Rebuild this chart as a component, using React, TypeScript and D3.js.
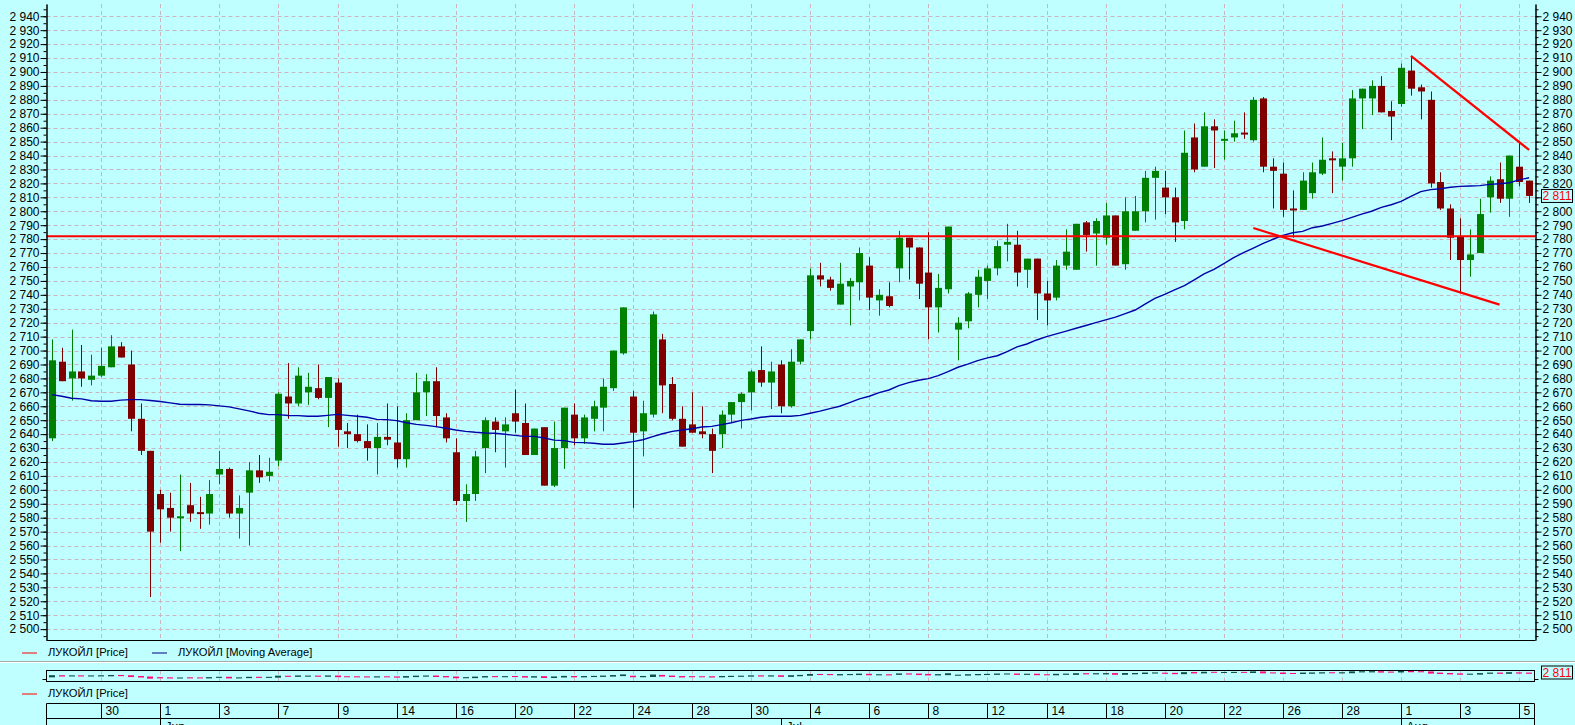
import React, { useEffect, useRef } from 'react';
import * as d3 from 'd3';

// OHLC, one entry per bar (3 bars per trading day)
const opens = [
  2637, 2692, 2680, 2685, 2679, 2682, 2688, 2703, 2690, 2651, 2628, 2597, 2587, 2580, 2589, 2584, 2583, 2611, 2615, 2583,
  2598, 2614, 2610, 2621, 2667, 2662, 2670, 2673, 2666, 2677, 2642, 2640, 2635, 2630, 2638, 2634, 2622, 2650, 2670, 2678,
  2652, 2627, 2592, 2597, 2630, 2649, 2642, 2655, 2648, 2625, 2645, 2603, 2630, 2654, 2637, 2651, 2659, 2673, 2698, 2667,
  2642, 2654, 2708, 2676, 2651, 2647, 2642, 2640, 2640, 2654, 2663, 2670, 2686, 2677, 2690, 2660, 2692, 2714, 2754, 2751,
  2733, 2746, 2749, 2761, 2736, 2739, 2759, 2781, 2774, 2756, 2731, 2744, 2715, 2721, 2740, 2750, 2759, 2776, 2776, 2758,
  2766, 2741, 2738, 2761, 2758, 2792, 2784, 2781, 2797, 2762, 2786, 2800, 2824, 2817, 2810, 2793, 2853, 2832, 2861, 2851,
  2853, 2856.5, 2851, 2881, 2832, 2827, 2802, 2801, 2813, 2827, 2838, 2832, 2838, 2881, 2881, 2890, 2872, 2877, 2901, 2889,
  2880, 2821, 2802, 2782, 2765, 2770, 2810, 2823, 2809, 2832, 2822,
];
const highs = [
  2708, 2702, 2715, 2704, 2697, 2702, 2711, 2706, 2700, 2662, 2628, 2600, 2598, 2611, 2605, 2595, 2607, 2628, 2616, 2596,
  2620, 2625, 2623, 2670, 2691, 2688, 2684, 2690, 2681, 2680, 2648, 2654, 2647, 2648, 2662, 2660, 2655, 2684, 2683, 2688,
  2655, 2637, 2604, 2628, 2652, 2652, 2652, 2672, 2662, 2644, 2645, 2649, 2659, 2662, 2654, 2664, 2680, 2700, 2731, 2671,
  2664, 2728, 2712, 2681, 2660, 2670, 2660, 2644, 2657, 2663, 2670, 2686, 2703, 2692, 2693, 2701, 2708, 2759, 2763, 2753,
  2763, 2752, 2774, 2767, 2744, 2749, 2786, 2781, 2774, 2785, 2755, 2789, 2724, 2742, 2758, 2761, 2779, 2791, 2786, 2766,
  2766, 2750, 2765, 2787, 2791, 2793, 2795, 2806, 2797, 2810, 2811, 2829, 2832, 2829, 2817, 2858, 2863, 2871, 2866, 2858,
  2865, 2871, 2882, 2882, 2838, 2835, 2815, 2828, 2835, 2853, 2843, 2849, 2887, 2888, 2894, 2897, 2879, 2906, 2911, 2891,
  2886, 2828, 2805, 2795, 2787, 2809, 2825, 2835, 2840, 2850, 2822,
];
const lows = [
  2635, 2678, 2664, 2674, 2675, 2681, 2688, 2695, 2642, 2625, 2523, 2562, 2570, 2556, 2577, 2572, 2575, 2604, 2580, 2565,
  2560, 2605, 2606, 2617, 2651, 2660, 2661, 2665, 2645, 2631, 2630, 2634, 2621, 2611, 2632, 2616, 2616, 2650, 2653, 2645,
  2634, 2589, 2577, 2592, 2612, 2627, 2616, 2641, 2625, 2625, 2603, 2602, 2615, 2632, 2633, 2642, 2642, 2671, 2697, 2587,
  2624, 2652, 2655, 2650, 2631, 2641, 2637, 2612, 2630, 2648, 2644, 2657, 2674, 2658, 2655, 2659, 2690, 2708, 2746, 2743,
  2733, 2718, 2736, 2729, 2725, 2731, 2749, 2751, 2737, 2708, 2713, 2741, 2693, 2716, 2731, 2737, 2754, 2764, 2746, 2745,
  2722, 2718, 2736, 2758, 2758, 2771, 2761, 2776, 2761, 2758, 2786, 2792, 2794, 2798, 2778, 2787, 2828, 2832, 2831, 2837,
  2850, 2852, 2850, 2828, 2802, 2796, 2781, 2801, 2809, 2826, 2813, 2822, 2832, 2859, 2869, 2871, 2851, 2875, 2883, 2866,
  2817, 2801, 2765, 2742, 2753, 2770, 2799, 2806, 2796, 2818, 2806,
];
const closes = [
  2693, 2678, 2685, 2680, 2682, 2689, 2703, 2695, 2651, 2628, 2570, 2586, 2580, 2581, 2583, 2583, 2597, 2615, 2583, 2587,
  2614, 2609, 2613, 2669, 2662, 2682, 2674, 2666, 2681, 2643, 2640, 2635, 2630, 2638, 2636, 2622, 2650, 2670, 2678, 2653,
  2637, 2592, 2597, 2624, 2650, 2643, 2647, 2649, 2625, 2644, 2603, 2630, 2659, 2637, 2652, 2660, 2674, 2700, 2731, 2641,
  2655, 2726, 2675, 2651, 2631, 2641, 2640, 2628, 2654, 2663, 2669, 2685, 2677, 2685, 2660, 2692, 2708, 2754, 2751, 2745,
  2748, 2750, 2770, 2738, 2740, 2732, 2781, 2774, 2748, 2731, 2745, 2789, 2720, 2741, 2753, 2759, 2775, 2778, 2756, 2766,
  2741, 2736, 2761, 2771, 2791, 2783, 2793, 2797, 2761, 2800, 2800, 2824, 2829, 2810, 2792, 2842, 2830, 2861, 2858, 2852,
  2856, 2856, 2880, 2832, 2829, 2801, 2801, 2822, 2828, 2837, 2837, 2838, 2881, 2888, 2890, 2871, 2868, 2903, 2888, 2886,
  2820, 2802, 2781, 2765, 2769, 2798, 2822, 2809, 2840, 2821, 2811,
];
const movingAverage = [
  2668.4, 2667.2, 2665.8, 2665.3, 2664, 2663.6, 2663.6, 2664.4, 2664.8, 2664.8, 2664.1, 2663.4, 2662.4, 2661.5, 2661.3,
  2661.3, 2661, 2660.3, 2659.6, 2658.1, 2656.7, 2655, 2654, 2654, 2653.4, 2653.3, 2652.8, 2652.8, 2653.5, 2654.2, 2653.5,
  2652.8, 2652.1, 2650.6, 2650.4, 2649.7, 2648.2, 2647, 2646.3, 2645.4, 2644.2, 2643, 2642, 2641.3, 2640.8, 2640.6, 2639.9,
  2639.1, 2638.4, 2638.4, 2637.2, 2635.7, 2635.3, 2634.1, 2633.9, 2633.4, 2632.7, 2632.7, 2633.6, 2634.6, 2636, 2638.2,
  2640.3, 2642, 2643, 2643.9, 2645.1, 2645.6, 2646.8, 2648.2, 2649.9, 2650.9, 2652.1, 2652.8, 2652.8, 2652.8, 2653.5, 2655,
  2656.5, 2658.3, 2660, 2662.6, 2665.3, 2667.2, 2669.8, 2671.7, 2674.8, 2677, 2678.7, 2679.8, 2682, 2684.8, 2688, 2690.3,
  2692.8, 2694.7, 2696.3, 2699.2, 2702.6, 2704.7, 2707.6, 2710, 2712, 2714, 2716, 2718, 2720, 2722, 2724, 2726.5, 2729.1,
  2733.4, 2737.5, 2740.4, 2743.5, 2746.6, 2750.7, 2755, 2758.3, 2762.4, 2766.7, 2770.3, 2773.6, 2777, 2779.9, 2782.7,
  2784.6, 2785.6, 2788.2, 2789.4, 2791.3, 2793.3, 2795.6, 2798, 2800, 2802.8, 2804.7, 2807.1, 2810.7, 2814.1, 2815.5,
  2816.2, 2817.2, 2817.9, 2818.1, 2818.4, 2819.3, 2819.8, 2820.5, 2822.5, 2824.1,
];

// date row: one label every 6 bars, starting at bar 5
const dayLabels = ['30', '1', '3', '7', '9', '14', '16', '20', '22', '24', '28', '30', '4', '6', '8', '12', '14', '18', '20', '22', '26', '28', '1', '3', '5'];
const monthLabels = ['Jun', 'Jul', 'Aug'];
const monthStartBars = [11, 74, 137];

// drawn lines (bar index, price)
const supportLevel = 2782;
const upperTrend = [{ i: 138, p: 2911.5 }, { i: 150, p: 2844 }];
const lowerTrend = [{ i: 122, p: 2788 }, { i: 147, p: 2733 }];

const seriesName = 'ЛУКОЙЛ';

const W = 1575;
const H = 725;
const BG = '#c0ffff';
const FONT = '"Liberation Sans", Arial, sans-serif';

const App: React.FC = () => {
  const svgRef = useRef<SVGSVGElement>(null);

  useEffect(() => {
    if (!svgRef.current) return;
    const svg = d3.select(svgRef.current);
    svg.selectAll('*').remove();

    const plot = { left: 46.5, right: 1535.5, top: 4, bottom: 640 };
    const n = closes.length;
    const x = d3.scaleLinear().domain([-0.55, n - 1 + 0.65]).range([plot.left, plot.right]);
    const y = d3.scaleLinear().domain([2492.2, 2948.8]).range([plot.bottom, plot.top]);
    const px = (i: number) => Math.round(x(i)) + 0.5;
    const fmt = (d: number) => d3.format(',')(d).replace(',', ' ');
    const gridBars = dayLabels.map((_, k) => 5 + 6 * k);

    svg.append('rect').attr('width', W).attr('height', H).attr('fill', BG);

    // --- grid ---
    const grid = svg.append('g').attr('stroke', '#c8b8bd').attr('stroke-dasharray', '4,3');
    d3.range(2500, 2941, 10).forEach(v => {
      const yy = Math.round(y(v)) + 0.5;
      grid.append('line').attr('x1', plot.left).attr('x2', plot.right).attr('y1', yy).attr('y2', yy);
    });
    gridBars.forEach(b => {
      grid.append('line').attr('x1', px(b)).attr('x2', px(b)).attr('y1', plot.top).attr('y2', plot.bottom);
    });

    // --- candles ---
    const candles = svg.append('g');
    closes.forEach((c, i) => {
      const o = opens[i];
      const up = c >= o;
      const col = up ? '#008000' : '#800000';
      candles.append('line')
        .attr('x1', px(i)).attr('x2', px(i))
        .attr('y1', y(highs[i])).attr('y2', y(lows[i]))
        .attr('stroke', col).attr('stroke-width', 1);
      const top = y(Math.max(o, c));
      const h = Math.max(2, y(Math.min(o, c)) - top);
      candles.append('rect')
        .attr('x', Math.round(x(i)) - 3).attr('width', 7)
        .attr('y', top).attr('height', h)
        .attr('fill', col);
    });

    // --- moving average ---
    const maLine = d3.line<number>().x((_, i) => x(i)).y(d => y(d));
    svg.append('path').datum(movingAverage)
      .attr('fill', 'none').attr('stroke', '#0000a8').attr('stroke-width', 1.4).attr('d', maLine);

    // --- drawn lines ---
    const tl = d3.line<{ i: number; p: number }>().x(d => x(d.i)).y(d => y(d.p));
    svg.append('line')
      .attr('x1', plot.left).attr('x2', plot.right)
      .attr('y1', y(supportLevel)).attr('y2', y(supportLevel))
      .attr('stroke', '#ff0000').attr('stroke-width', 2);
    [upperTrend, lowerTrend].forEach(t => {
      svg.append('path').datum(t).attr('fill', 'none').attr('stroke', '#ff0000').attr('stroke-width', 2.2).attr('d', tl);
    });

    // --- axes ---
    const styleAxis = (g: d3.Selection<SVGGElement, unknown, null, undefined>) => {
      g.selectAll('path, line').attr('stroke', '#000');
      g.selectAll('text').attr('font-family', FONT).attr('font-size', 12).attr('fill', '#000');
    };
    const major = d3.range(2500, 2941, 10);
    const minor = d3.range(2495, 2946, 5);
    const leftMinor = svg.append('g').attr('transform', `translate(${plot.left},0)`)
      .call(d3.axisLeft(y).tickValues(minor).tickSize(3).tickSizeOuter(0).tickFormat(() => ''));
    styleAxis(leftMinor);
    const leftMajor = svg.append('g').attr('transform', `translate(${plot.left},0)`)
      .call(d3.axisLeft(y).tickValues(major).tickSize(6).tickPadding(1).tickSizeOuter(0).tickFormat(d => fmt(+d)));
    styleAxis(leftMajor);
    const rightMinor = svg.append('g').attr('transform', `translate(${plot.right},0)`)
      .call(d3.axisRight(y).tickValues(minor).tickSize(3).tickSizeOuter(0).tickFormat(() => ''));
    styleAxis(rightMinor);
    const rightMajor = svg.append('g').attr('transform', `translate(${plot.right},0)`)
      .call(d3.axisRight(y).tickValues(major).tickSize(6).tickPadding(1).tickSizeOuter(0).tickFormat(d => fmt(+d)));
    styleAxis(rightMajor);

    svg.append('line').attr('x1', plot.left).attr('x2', plot.right)
      .attr('y1', plot.bottom + 0.5).attr('y2', plot.bottom + 0.5).attr('stroke', '#000');

    const lastClose = closes[n - 1];
    const priceTag = (cy: number) => {
      svg.append('rect').attr('x', 1541.5).attr('y', cy - 6.5).attr('width', 31).attr('height', 13)
        .attr('fill', BG).attr('stroke', '#000');
      svg.append('text').attr('x', 1557).attr('y', cy).attr('dy', '0.35em').attr('text-anchor', 'middle')
        .attr('font-family', FONT).attr('font-size', 12).attr('fill', '#ff0000').text(fmt(lastClose));
    };
    priceTag(y(lastClose));

    // --- legends ---
    const legend = (lx: number, ly: number, color: string, label: string) => {
      svg.append('line').attr('x1', lx).attr('x2', lx + 15).attr('y1', ly + 0.5).attr('y2', ly + 0.5)
        .attr('stroke', color).attr('stroke-width', 1);
      svg.append('text').attr('x', lx + 26).attr('y', ly).attr('dy', '0.35em')
        .attr('font-family', FONT).attr('font-size', 11.2).attr('fill', '#000').text(label);
    };
    legend(22, 652.5, '#ff0000', `${seriesName} [Price]`);
    legend(152, 652.5, '#000080', `${seriesName} [Moving Average]`);

    // separator
    svg.append('line').attr('x1', 0).attr('x2', W).attr('y1', 661.5).attr('y2', 661.5).attr('stroke', '#a8a8a8');
    svg.append('line').attr('x1', 0).attr('x2', W).attr('y1', 662.5).attr('y2', 662.5).attr('stroke', '#ffffff');

    // --- mini price panel ---
    const mini = { top: 670.5, bottom: 681.5, right: 1534.5 };
    const yMini = d3.scaleLinear().domain([2432, 2939]).range([681, 670.7]);
    const miniGrid = svg.append('g').attr('stroke', '#c8b8bd').attr('stroke-dasharray', '4,3');
    gridBars.forEach(b => {
      miniGrid.append('line').attr('x1', px(b)).attr('x2', px(b)).attr('y1', mini.top).attr('y2', mini.bottom);
    });
    closes.forEach((c, i) => {
      const o = opens[i];
      const top = yMini(Math.max(o, c)) - 0.5;
      const h = Math.max(1, yMini(Math.min(o, c)) - yMini(Math.max(o, c)) + 1);
      svg.append('rect').attr('x', Math.round(x(i)) - 3).attr('width', 6).attr('y', top).attr('height', h)
        .attr('fill', c >= o ? '#0c5048' : '#ff0a80');
    });
    svg.append('rect').attr('x', plot.left).attr('y', mini.top)
      .attr('width', mini.right - plot.left).attr('height', mini.bottom - mini.top)
      .attr('fill', 'none').attr('stroke', '#000');
    svg.append('line').attr('x1', plot.left - 4).attr('x2', plot.left).attr('y1', 679.5).attr('y2', 679.5).attr('stroke', '#000');
    svg.append('line').attr('x1', mini.right).attr('x2', mini.right + 4).attr('y1', 679.5).attr('y2', 679.5).attr('stroke', '#000');
    priceTag(672.5);

    legend(22, 693.5, '#ff0000', `${seriesName} [Price]`);

    // --- date axis ---
    const dTop = 703.5;
    const dMid = 718.5;
    const axisG = svg.append('g').attr('stroke', '#000').attr('fill', 'none');
    axisG.append('line').attr('x1', plot.left).attr('x2', mini.right).attr('y1', dTop).attr('y2', dTop);
    axisG.append('line').attr('x1', plot.left).attr('x2', mini.right).attr('y1', dMid).attr('y2', dMid);
    axisG.append('line').attr('x1', plot.left).attr('x2', plot.left).attr('y1', dTop).attr('y2', H + 5);
    axisG.append('line').attr('x1', mini.right).attr('x2', mini.right).attr('y1', dTop).attr('y2', H + 5);
    gridBars.forEach((b, k) => {
      axisG.append('line').attr('x1', px(b)).attr('x2', px(b)).attr('y1', dTop).attr('y2', dMid);
      svg.append('text').attr('x', px(b) + 4).attr('y', 715)
        .attr('font-family', FONT).attr('font-size', 12).attr('fill', '#000').text(dayLabels[k]);
    });
    // month names sit in a row that the frame cuts off at the bottom, as in the original
    monthStartBars.forEach((b, k) => {
      axisG.append('line').attr('x1', px(b)).attr('x2', px(b)).attr('y1', dMid).attr('y2', H + 5);
      svg.append('text').attr('x', px(b) + 5).attr('y', 731)
        .attr('font-family', FONT).attr('font-size', 12).attr('fill', '#000').text(monthLabels[k]);
    });
  }, []);

  return (
    <div style={{ position: 'absolute', left: 0, top: 0, width: W, height: H, overflow: 'hidden' }}>
      <svg ref={svgRef} width={W} height={H} viewBox={`0 0 ${W} ${H}`} style={{ display: 'block' }} />
    </div>
  );
};

export default App;
